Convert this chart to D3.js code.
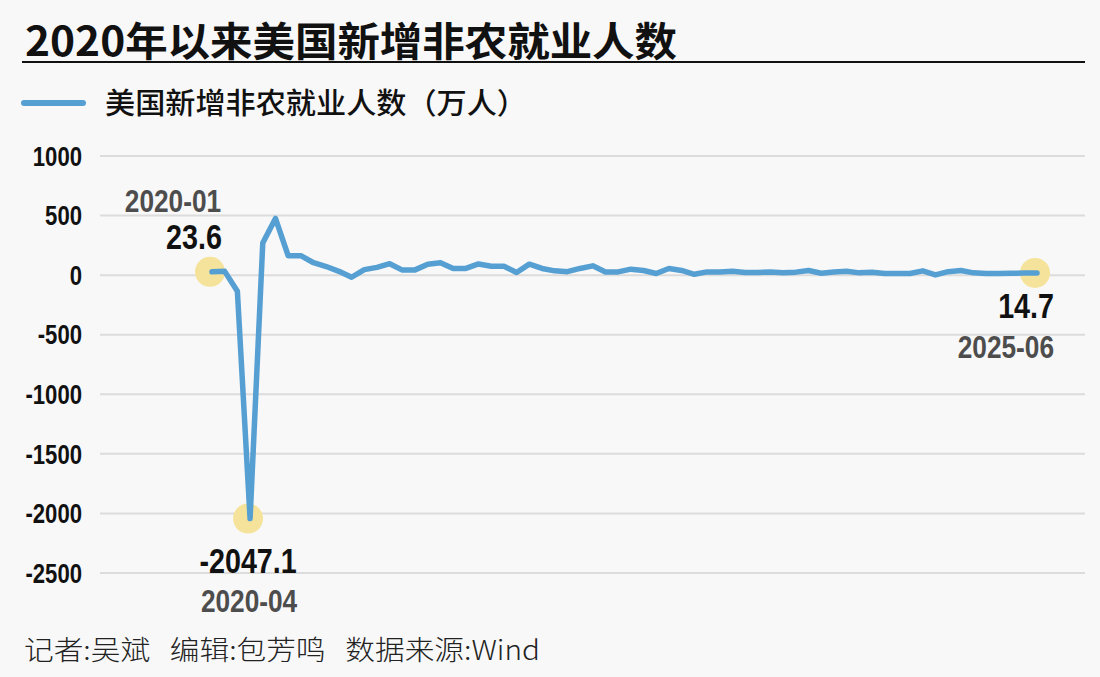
<!DOCTYPE html>
<html>
<head>
<meta charset="utf-8">
<script src="https://cdn.jsdelivr.net/npm/d3@7"></script>
<style>
  html, body { margin: 0; padding: 0; background: #f8f8f8; }
  svg { display: block; }
</style>
</head>
<body>
<svg id="chart" width="1100" height="677"></svg>
<script>
// ---- data ----
const startMonth = "2020-01";
const endMonth = "2025-06";
// 美国新增非农就业人数（万人）, monthly 2020-01 … 2025-06
const payrolls = [
  23.6, 27.5, -140, -2047.1, 265, 472, 159, 159, 100, 68, 28, -22,
  42, 61, 92, 38, 40, 88, 100, 52, 52, 90, 71, 71,
  18, 88, 52, 32, 25, 52, 74, 23, 23, 46, 35, 10,
  52, 35, 3, 23, 23, 29, 18, 18, 23, 15, 21, 35,
  12, 23, 29, 15, 21, 10, 10, 10, 32, -2, 25, 35,
  15, 10, 10, 11, 14, 14.7
];
const yTicks = [1000, 500, 0, -500, -1000, -1500, -2000, -2500];
const titleText = "2020年以来美国新增非农就业人数";
const legendText = "美国新增非农就业人数（万人）";
const footerText = "记者:吴斌   编辑:包芳鸣   数据来源:Wind";
// highlighted points
const highlights = [
  { month: "2020-01", label: "23.6", pos: "above" },
  { month: "2020-04", label: "-2047.1", pos: "below" },
  { month: "2025-06", label: "14.7", pos: "belowRight" }
];

// ---- setup ----
const parse = d3.timeParse("%Y-%m");
const fmt = d3.timeFormat("%Y-%m");
const months = d3.timeMonth.range(parse(startMonth), d3.timeMonth.offset(parse(endMonth), 1)).map(fmt);
const data = months.map((m, i) => ({ month: m, value: payrolls[i] }));

const svg = d3.select("#chart");
const CJK = "'Noto Sans CJK SC', 'Noto Sans', sans-serif";
const NUMF = "'Liberation Sans', Arial, sans-serif";

// condensed advance widths (em) to mimic a narrow bold face
function narrowLen(str, fs) {
  let w = 0;
  for (const c of String(str)) {
    if (c >= "0" && c <= "9") w += 0.456;
    else if (c === "-") w += 0.273;
    else if (c === ".") w += 0.228;
    else w += 0.456;
  }
  return w * fs;
}

svg.append("rect").attr("width", 1100).attr("height", 677).attr("fill", "#f8f8f8");

const x = d3.scalePoint().domain(months).range([212, 1037]);
const y = d3.scaleLinear().domain([-2500, 1000]).range([572.5, 155.5]);

// Title
svg.append("text")
  .attr("x", 25).attr("y", 56)
  .attr("font-family", CJK).attr("font-weight", 700).attr("font-size", 40)
  .attr("textLength", 652).attr("lengthAdjust", "spacingAndGlyphs")
  .attr("fill", "#111")
  .text(titleText);
svg.append("line")
  .attr("x1", 22).attr("x2", 1085).attr("y1", 62).attr("y2", 62)
  .attr("stroke", "#111").attr("stroke-width", 2);

// Legend
svg.append("line")
  .attr("x1", 24).attr("x2", 83).attr("y1", 103).attr("y2", 103)
  .attr("stroke", "#569fd3").attr("stroke-width", 6).attr("stroke-linecap", "round");
svg.append("text")
  .attr("x", 105).attr("y", 114)
  .attr("font-family", CJK).attr("font-weight", 500).attr("font-size", 29)
  .attr("textLength", 422).attr("lengthAdjust", "spacingAndGlyphs")
  .attr("fill", "#111")
  .text(legendText);

// Y axis + gridlines
const TICK_FS = 27;
const yAxis = d3.axisLeft(y).tickValues(yTicks).tickSize(-985).tickPadding(18).tickFormat(d => String(d));
const gy = svg.append("g").attr("transform", "translate(100,0)").call(yAxis);
gy.select(".domain").remove();
gy.selectAll(".tick line").attr("stroke", "#dcdcdc").attr("stroke-width", 2);
gy.selectAll(".tick text")
  .attr("font-family", NUMF).attr("font-weight", 700).attr("font-size", TICK_FS)
  .attr("fill", "#111").attr("dy", "0.36em")
  .attr("textLength", d => narrowLen(d, TICK_FS))
  .attr("lengthAdjust", "spacingAndGlyphs");

// Highlight circles (under the line)
svg.append("g").selectAll("circle")
  .data(highlights)
  .join("circle")
  .attr("cx", d => x(d.month) - 2)
  .attr("cy", d => y(payrolls[months.indexOf(d.month)]))
  .attr("r", 15)
  .attr("fill", "#f6e39b");

// Line
const line = d3.line().x(d => x(d.month)).y(d => y(d.value));
svg.append("path")
  .datum(data)
  .attr("d", line)
  .attr("fill", "none")
  .attr("stroke", "#569fd3")
  .attr("stroke-width", 5.5)
  .attr("stroke-linejoin", "round")
  .attr("stroke-linecap", "round");

// Annotation labels
const MONTH_FS = 32, VAL_FS = 35;
const ann = svg.append("g");
highlights.forEach(h => {
  const cx = x(h.month);
  const cy = y(payrolls[months.indexOf(h.month)]);
  let vx, vy, mx, my, anchor;
  if (h.pos === "above") {
    vx = cx - 18; vy = cy - 23; mx = cx - 39; my = cy - 60; anchor = "middle";
  } else if (h.pos === "below") {
    vx = cx - 2; vy = cy + 54; mx = cx - 1; my = cy + 93; anchor = "middle";
  } else {
    vx = cx + 17; vy = cy + 45; mx = cx + 17; my = cy + 85; anchor = "end";
  }
  ann.append("text")
    .attr("x", mx).attr("y", my).attr("text-anchor", anchor)
    .attr("font-family", NUMF).attr("font-weight", 700).attr("font-size", MONTH_FS)
    .attr("textLength", narrowLen(h.month, MONTH_FS)).attr("lengthAdjust", "spacingAndGlyphs")
    .attr("fill", "#4d4d4d")
    .text(h.month);
  ann.append("text")
    .attr("x", vx).attr("y", vy).attr("text-anchor", anchor)
    .attr("font-family", NUMF).attr("font-weight", 700).attr("font-size", VAL_FS)
    .attr("textLength", narrowLen(h.label, VAL_FS)).attr("lengthAdjust", "spacingAndGlyphs")
    .attr("fill", "#111")
    .text(h.label);
});

// Footer
svg.append("text")
  .attr("x", 24).attr("y", 660)
  .attr("font-family", CJK).attr("font-weight", 300).attr("font-size", 27)
  .attr("textLength", 516).attr("lengthAdjust", "spacingAndGlyphs")
  .attr("fill", "#222")
  .attr("xml:space", "preserve")
  .style("white-space", "pre")
  .text(footerText);
</script>
</body>
</html>
